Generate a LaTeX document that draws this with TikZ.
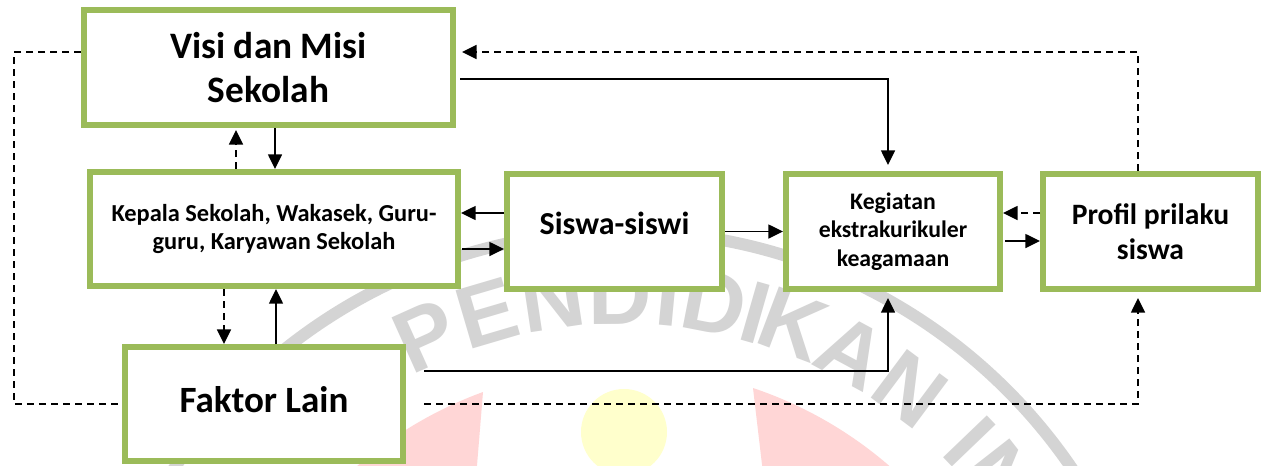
\documentclass[tikz,border=0pt]{standalone}
\usepackage{fontspec}
\setmainfont{Carlito}
\newfontfamily\wmfont{Liberation Sans}
\usetikzlibrary{arrows.meta,calc}
\definecolor{boxgreen}{HTML}{9BBB59}
\definecolor{wmgray}{HTML}{D4D4D4}
\definecolor{wmpink}{HTML}{FFD6D6}
\definecolor{wmyellow}{HTML}{FFFFCC}
\begin{document}
\begin{tikzpicture}[x=0.75pt,y=-0.75pt,
  box/.style={draw=boxgreen, line width=4.5pt, fill=white, align=center, inner sep=0pt},
  arr/.style={draw=black, line width=1.1pt, -{Triangle[length=11pt,width=10.5pt]}},
  darr/.style={draw=black, line width=1.2pt, dash pattern=on 5pt off 4pt, -{Triangle[length=11pt,width=10.5pt]}},
  dline/.style={draw=black, line width=1.2pt, dash pattern=on 5pt off 4pt},
  wm/.style={text=wmgray, font=\wmfont\bfseries\fontsize{66}{72}\selectfont, anchor=base, inner sep=0pt}
]
\useasboundingbox (0,0) rectangle (1263,465);
\fill[white] (0,0) rectangle (1263,465);
% watermark
\begin{scope}
\clip (0,0) rectangle (1263,465);
\coordinate (C) at (623,774);
\fill[wmpink] (753,388) arc[start angle=-71.4, end angle=-40, radius=406] -- (765,490) -- cycle;
\fill[wmpink] (483,392) arc[start angle=-110.1, end angle=-150, radius=406] -- (475,490) -- cycle;
\fill[wmyellow] (624,432) circle (43);
\draw[wmgray, line width=9pt] (C) circle (543);
\foreach \ch/\ang in {P/114.2, E/106.4, N/98.5, D/90.3, I/84.6, D/79.0, I/74.0, K/69.3, A/61.6, N/53.3, I/43.8, N/38.0}{
  \node[wm, rotate=\ang-90] at ($(C)+(-\ang:450)$) {\ch};
}
\end{scope}
% boxes
\node[box, minimum width=276.75pt, minimum height=86.25pt, font=\bfseries\fontsize{28}{33}\selectfont] (visi) at (268.5,67.5) {Visi dan Misi\\Sekolah};
\node[box, minimum width=276pt, minimum height=85.5pt, font=\bfseries\fontsize{18.3}{21.5}\selectfont] (kepala) at (274,229) {Kepala Sekolah, Wakasek, Guru-\\guru, Karyawan Sekolah};
\node[box, minimum width=161.25pt, minimum height=86.25pt, font=\bfseries\fontsize{24}{28}\selectfont] (siswa) at (614.5,231.5) {\raisebox{12pt}{Siswa-siswi}};
\node[box, minimum width=160.5pt, minimum height=86.25pt, font=\bfseries\fontsize{17.8}{21.4}\selectfont] (keg) at (893,231.5) {Kegiatan\\ekstrakurikuler\\keagamaan};
\node[box, minimum width=161.25pt, minimum height=86.25pt, font=\bfseries\fontsize{22.2}{26.25}\selectfont] (profil) at (1150.5,231.5) {Profil prilaku\\siswa};
\node[box, minimum width=208.5pt, minimum height=85.5pt, font=\bfseries\fontsize{27.8}{32}\selectfont] (faktor) at (264,404) {\raisebox{6.8pt}{Faktor Lain}};
% helper coordinates
\coordinate (lft) at (14,0);
\coordinate (a1) at ($(siswa.west)+(0,-18.5)$);
\coordinate (a2) at ($(kepala.east)+(1,20)$);
\coordinate (a3) at ($(profil.west)+(0,-18.5)$);
\coordinate (a4) at ($(keg.east)+(2,9.5)$);
\coordinate (b1) at ($(visi.south)+(6.5,0)$);
\coordinate (b2) at ($(kepala.north)+(-38,0)$);
\coordinate (b3) at ($(kepala.south)+(-50,0)$);
\coordinate (b4) at ($(faktor.north)+(12,0)$);
\coordinate (c1) at ($(visi.east)+(4,11.5)$);
\coordinate (c2) at ($(keg.north)+(-5,-6)$);
\coordinate (c3) at ($(faktor.east)+(18,-33)$);
\coordinate (c4) at ($(keg.south)+(-5,6)$);
\coordinate (c5) at ($(faktor.east)+(18,0)$);
\coordinate (c6) at ($(profil.south)+(-12.5,6)$);
\coordinate (c7) at ($(profil.north)+(-12.5,0)$);
\coordinate (c8) at ($(visi.east)+(6,-15.5)$);
\coordinate (d1) at ($(visi.west)+(0,-15.5)$);
% connectors
\draw[arr] (a1) -- (a1 -| kepala.east);
\draw[arr] (a2) -- (a2 -| siswa.west);
\draw[arr] (siswa.east) -- (siswa.east -| keg.west);
\draw[darr] (a3) -- (a3 -| keg.east);
\draw[arr] (a4) -- (a4 -| profil.west);
\draw[arr] (b1) -- (b1 |- kepala.north);
\draw[darr] (b2) -- ($(b2 |- visi.south)+(0,2)$);
\draw[darr] (b3) -- (b3 |- faktor.north);
\draw[arr] (b4) -- (b4 |- kepala.south);
\draw[arr] (c1) -| (c2);
\draw[arr] (c3) -| (c4);
\draw[darr] (c5) -| (c6);
\draw[darr] (c7) |- (c8);
\draw[dline] (d1) -- (d1 -| lft) |- (faktor.west);
\end{tikzpicture}
\end{document}
